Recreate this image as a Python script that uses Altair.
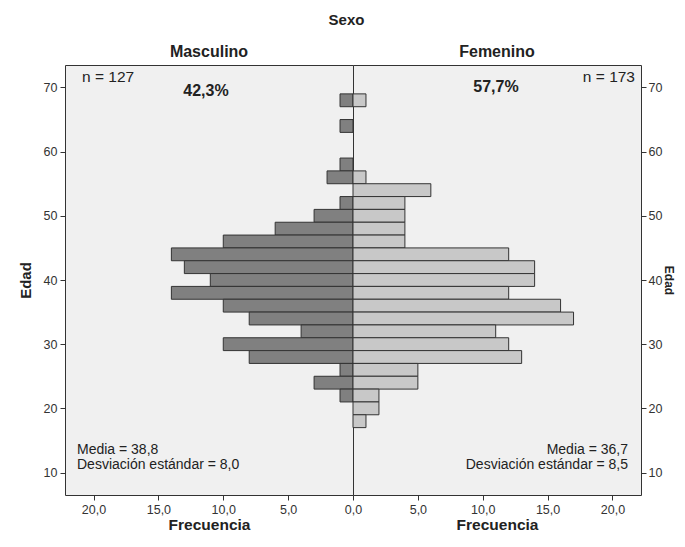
import altair as alt
import pandas as pd

# ---- data (2-year age bins, centre of each bin) ----
age_mid = [68, 66, 64, 62, 60, 58, 56, 54, 52, 50, 48, 46, 44,
           42, 40, 38, 36, 34, 32, 30, 28, 26, 24, 22, 20, 18]
male_freq = [1, 0, 1, 0, 0, 1, 2, 0, 1, 3, 6, 10, 14,
             13, 11, 14, 10, 8, 4, 10, 8, 1, 3, 1, 0, 0]
female_freq = [1, 0, 0, 0, 0, 0, 1, 6, 4, 4, 4, 4, 12,
               14, 14, 12, 16, 17, 11, 12, 13, 5, 5, 2, 2, 1]
bin_width = 2

x_ticks = [0, 5, 10, 15, 20]
y_ticks = [10, 20, 30, 40, 50, 60, 70]

male_label = "Masculino"
female_label = "Femenino"
male_n = "n = 127"
female_n = "n = 173"
male_pct = "42,3%"
female_pct = "57,7%"
male_stats = ["Media = 38,8", "Desviación estándar = 8,0"]
female_stats = ["Media = 36,7", "Desviación estándar = 8,5"]

FONT = "Liberation Sans, Arial, sans-serif"
PW, PH = 288, 430
X_MAX = 22.2
Y_DOM = [6.5, 73.5]
label_expr = "replace(format(datum.value, '.1f'), '.', ',')"


def text_layer(txt, x, y, align="left", bold=False, size=14):
    return alt.Chart(pd.DataFrame({"k": [0]})).mark_text(
        align=align, baseline="middle", font=FONT, fontSize=size,
        fontWeight="bold" if bold else "normal", color="#222"
    ).encode(x=alt.value(x), y=alt.value(y), text=alt.value(txt))


def panel(counts, fill, side, header, n_txt, pct_txt, stats):
    df = pd.DataFrame({
        "lo": [m - bin_width / 2 for m in age_mid],
        "hi": [m + bin_width / 2 for m in age_mid],
        "count": counts,
    })
    df = df[df["count"] > 0]
    left = side == "left"
    xaxis = alt.Axis(values=x_ticks if left else x_ticks[1:], labelExpr=label_expr,
                     title="Frecuencia", grid=False, domain=False, tickSize=5,
                     tickColor="#333", labelPadding=3, labelFontSize=12.5,
                     labelFlush=False, labelColor="#333", labelFont=FONT, titleFont=FONT,
                     titleFontSize=15.5, titleFontWeight="bold", titlePadding=2,
                     titleColor="#222")
    yaxis = alt.Axis(values=y_ticks, orient="left" if left else "right",
                     title="Edad", grid=False, domain=False, tickSize=5,
                     tickColor="#333", labelPadding=3 if left else 2, labelFontSize=12.5,
                     labelColor="#333", labelFont=FONT, titleFont=FONT,
                     titleFontSize=15 if left else 12, titleFontWeight="bold",
                     titlePadding=10 if left else 0,
                     titleColor="#222")
    bars = alt.Chart(df).mark_rect(fill=fill, stroke="#333", strokeWidth=1).encode(
        x=alt.X("count:Q", scale=alt.Scale(domain=[0, X_MAX], reverse=left, nice=False),
                axis=xaxis),
        x2=alt.datum(0),
        y=alt.Y("lo:Q", scale=alt.Scale(domain=Y_DOM, nice=False, zero=False), axis=yaxis),
        y2="hi:Q",
    )
    if left:
        layers = [
            bars,
            text_layer(n_txt, 17, 12, "left", size=15.5),
            text_layer(pct_txt, 141, 26, "center", bold=True, size=16),
            text_layer(stats[0], 12, 385, "left"),
            text_layer(stats[1], 12, 400, "left"),
        ]
    else:
        layers = [
            bars,
            text_layer(n_txt, 282, 12, "right", size=15.5),
            text_layer(pct_txt, 143, 22, "center", bold=True, size=16),
            text_layer(stats[0], 275, 385, "right"),
            text_layer(stats[1], 275, 400, "right"),
        ]
    return alt.layer(*layers).properties(
        width=PW, height=PH,
        title=alt.TitleParams(header, font=FONT, fontSize=16, fontWeight="bold",
                              color="#222", offset=5),
    )


left_panel = panel(male_freq, "#808080", "left", male_label, male_n, male_pct, male_stats)
right_panel = panel(female_freq, "#C8C8C8", "right", female_label, female_n, female_pct, female_stats)

chart = alt.hconcat(left_panel, right_panel, spacing=0, bounds="flush").properties(
    title=alt.TitleParams("Sexo", font=FONT, fontSize=15, fontWeight="bold",
                          color="#222", anchor="middle", offset=16),
    padding={"left": 9, "top": 4, "right": 0, "bottom": -2},
    background="white",
).configure_view(stroke="#333", strokeWidth=1, fill="#F0F0F0")

chart.save("out.html", embed_options={"renderer": "svg", "actions": False})
